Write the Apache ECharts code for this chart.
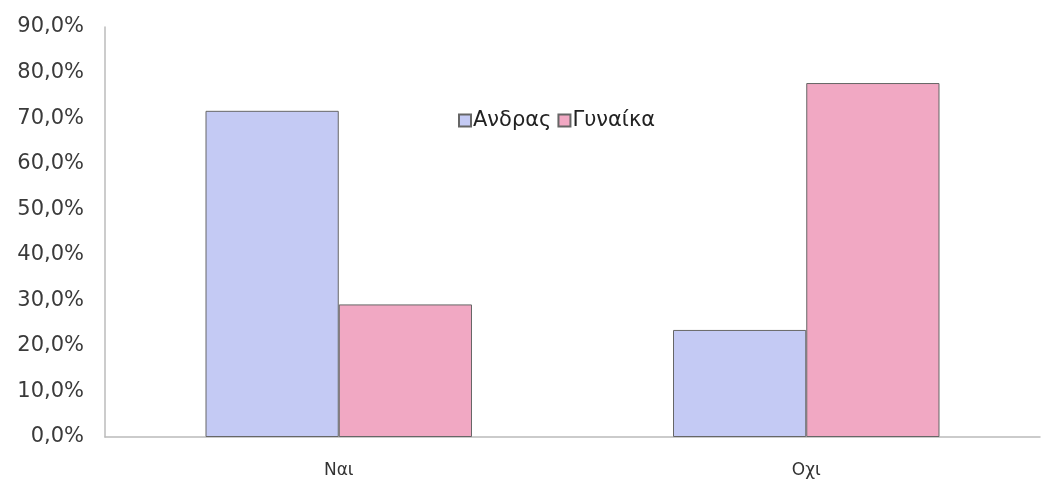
<!DOCTYPE html>
<html>
<head>
<meta charset="utf-8">
<script src="https://cdn.jsdelivr.net/npm/echarts@6/dist/echarts.min.js"></script>
<style>
html,body{margin:0;padding:0;background:#fff;}
#c{width:1043px;height:490px;}
</style>
</head>
<body>
<div id="c"></div>
<script>
var categories = ["Ναι", "Οχι"];
var seriesNames = ["Ανδρας", "Γυναίκα"];
var andras = [71.6, 23.5];
var gynaika = [29.1, 77.7];

var chart = echarts.init(document.getElementById('c'), null, {renderer: 'canvas'});
var font = '"DejaVu Sans", Verdana, sans-serif';
chart.setOption({
  animation: false,
  backgroundColor: '#ffffff',
  textStyle: {fontFamily: font},
  grid: {left: 105, right: 3, top: 27, bottom: 53},
  legend: {
    data: seriesNames,
    left: 453, top: 105,
    itemWidth: 12, itemHeight: 12, itemGap: 6,
    icon: 'rect',
    textStyle: {fontSize: 21, color: '#222', fontFamily: font, padding: [0,0,0,-3]}
  },
  xAxis: {
    type: 'category',
    data: categories,
    axisLine: {lineStyle: {color: '#bbb', width: 1.5}},
    axisTick: {show: false},
    axisLabel: {fontSize: 17, color: '#333', margin: 25, fontFamily: font}
  },
  yAxis: {
    type: 'value',
    min: 0, max: 90, interval: 10,
    axisLine: {show: true, lineStyle: {color: '#bbb', width: 1.5}},
    axisTick: {show: false},
    splitLine: {show: false},
    axisLabel: {
      fontSize: 21, color: '#3a3a3a', margin: 21, fontFamily: font,
      formatter: function (v) { return v.toFixed(1).replace('.', ',') + '%'; }
    }
  },
  series: [
    {
      name: seriesNames[0], type: 'bar', data: andras,
      barGap: '0%', barCategoryGap: '43%',
      itemStyle: {color: '#C4CAF4', borderColor: '#666', borderWidth: 1}
    },
    {
      name: seriesNames[1], type: 'bar', data: gynaika,
      itemStyle: {color: '#F1A8C3', borderColor: '#666', borderWidth: 1}
    }
  ]
});
</script>
</body>
</html>
